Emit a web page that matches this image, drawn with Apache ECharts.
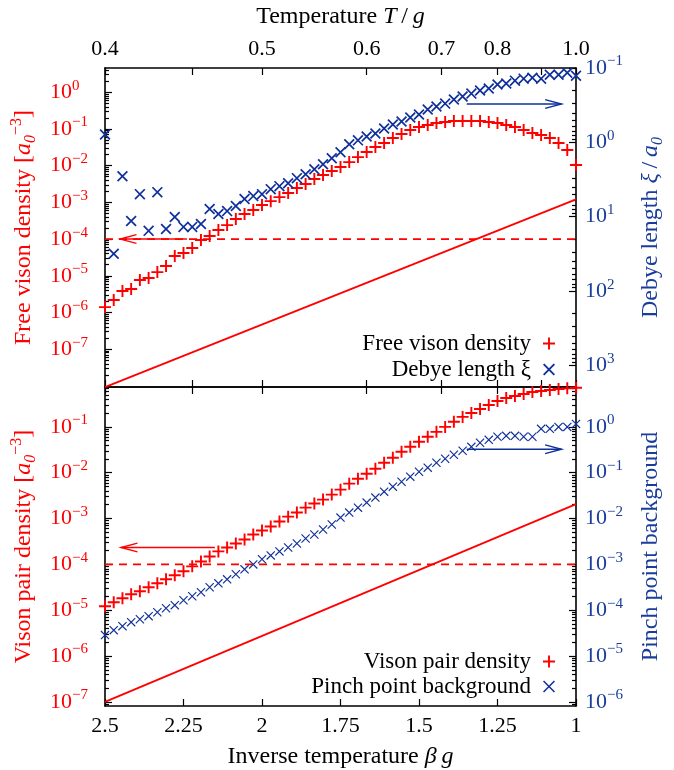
<!DOCTYPE html>
<html><head><meta charset="utf-8">
<script src="https://cdn.jsdelivr.net/npm/echarts@6/dist/echarts.min.js"></script>
<style>html,body{margin:0;padding:0;background:#fff}#c{width:674px;height:770px}</style>
</head><body><div id="c"></div>
<script>
// ---------------- data ----------------
const betaGrid = [2.5,2.4722,2.4444,2.4167,2.3889,2.3611,2.3333,2.3056,2.2778,2.25,
  2.2222,2.1944,2.1667,2.1389,2.1111,2.0833,2.0556,2.0278,2.0,1.9722,
  1.9444,1.9167,1.8889,1.8611,1.8333,1.8056,1.7778,1.75,1.7222,1.6944,
  1.6667,1.6389,1.6111,1.5833,1.5556,1.5278,1.5,1.4722,1.4444,1.4167,
  1.3889,1.3611,1.3333,1.3056,1.2778,1.25,1.2222,1.1944,1.1667,1.1389,
  1.1111,1.0833,1.0556,1.0278,1.0];
const freeVisonDensity = [1.40e-6,2.18e-6,3.83e-6,4.35e-6,7.64e-6,8.65e-6,1.26e-5,1.84e-5,3.44e-5,4.16e-5,
  5.69e-5,9.4e-5,1.21e-4,1.76e-4,2.40e-4,3.51e-4,4.80e-4,6.17e-4,8.43e-4,1.08e-3,
  1.39e-3,1.79e-3,2.45e-3,3.16e-3,4.32e-3,5.55e-3,7.13e-3,9.16e-3,1.25e-2,1.71e-2,
  2.35e-2,3.21e-2,4.13e-2,5.65e-2,7.26e-2,9.33e-2,0.113,0.128,0.145,0.154,
  0.164,0.164,0.164,0.164,0.154,0.145,0.128,0.113,9.33e-2,7.73e-2,
  6.82e-2,5.65e-2,4.13e-2,2.66e-2,1.04e-2];
const debyeLength = [0.782,31.5,2.85,11.4,4.97,15.5,4.67,14.6,10.1,13.7,
  13.7,12.5,7.89,9.2,8.4,7.19,5.79,5.28,4.97,4.26,
  3.88,3.54,3.03,2.68,2.30,1.97,1.64,1.36,1.06,0.94,
  0.832,0.759,0.65,0.574,0.524,0.462,0.422,0.361,0.33,0.301,
  0.265,0.242,0.221,0.201,0.189,0.167,0.162,0.148,0.139,0.135,
  0.139,0.123,0.123,0.116,0.127];
const visonPairDensity = [1.22e-5,1.49e-5,1.82e-5,2.23e-5,2.59e-5,3.16e-5,3.86e-5,4.72e-5,5.77e-5,7.05e-5,
  9.05e-5,1.16e-4,1.49e-4,1.92e-4,2.34e-4,2.86e-4,3.49e-4,4.49e-4,5.48e-4,6.70e-4,
  8.61e-4,1.10e-3,1.35e-3,1.73e-3,2.12e-3,2.59e-3,3.33e-3,4.27e-3,5.77e-3,7.41e-3,
  9.51e-3,1.22e-2,1.65e-2,2.12e-2,2.86e-2,3.67e-2,4.72e-2,6.07e-2,7.78e-2,0.100,
  0.129,0.165,0.201,0.246,0.301,0.367,0.427,0.472,0.521,0.577,
  0.607,0.637,0.670,0.693,0.714];
const pinchPointBackground = [2.86e-5,3.67e-5,4.49e-5,5.48e-5,6.37e-5,7.41e-5,9.05e-5,1.10e-4,1.29e-4,1.65e-4,
  2.01e-4,2.46e-4,3.16e-4,3.86e-4,4.72e-4,6.07e-4,7.78e-4,1.0e-3,1.29e-3,1.57e-3,
  1.92e-3,2.34e-3,2.86e-3,3.67e-3,4.49e-3,5.77e-3,7.41e-3,1.05e-2,1.35e-2,1.73e-2,
  2.23e-2,2.86e-2,3.86e-2,4.96e-2,6.37e-2,8.19e-2,0.105,0.129,0.165,0.201,
  0.246,0.301,0.367,0.449,0.521,0.607,0.637,0.637,0.607,0.607,
  0.906,0.906,1.0,1.0,1.16];
const freeVisonFit = [[2.5, 9.3e-9], [1.0, 1.21e-3]];
const visonPairFit = [[2.5, 1.0e-7], [1.0, 2.07e-3]];
const thresholdLine = [[2.5, 1e-4], [1.0, 1e-4]];
// arrows: [betaTail, valueTail, betaHead, valueHead]
const arrowFreeVison = [2.239, 1e-4, 2.452, 1e-4];
const arrowDebye = [1.348, 0.305, 1.046, 0.305];
const arrowVisonPair = [2.150, 2.34e-4, 2.449, 2.34e-4];
const arrowPinch = [1.348, 0.325, 1.046, 0.325];
// ticks
const tempTicks = [0.4, 0.45, 0.5, 0.6, 0.7, 0.8, 0.9, 1.0];
const tempLabels = [0.4, 0.5, 0.6, 0.7, 0.8, 1.0];
const betaTicks = [2.5, 2.25, 2, 1.75, 1.5, 1.25, 1];
const betaLabels = ['2.5', '2.25', '2', '1.75', '1.5', '1.25', '1'];
const freeDecades = [-7, -6, -5, -4, -3, -2, -1, 0];
const debyeDecades = [-1, 0, 1, 2, 3];
const pairDecades = [-7, -6, -5, -4, -3, -2, -1];
const pinchDecades = [-6, -5, -4, -3, -2, -1, 0];
const minorMultipliers = [2, 3, 4, 5, 6, 7, 8, 9];

// ---------------- style ----------------
const SERIF = '"Liberation Serif","Times New Roman",serif';
const RED = '#ff0000';
const BLUE = '#1a3c9c';
const BLUE_M = '#0f2f9a';
const FS_TICK = 22, FS_NAME = 24, FS_LEG = 23;
const L = Math.log10;
const PLUS = 'path://M0,4.2L10,4.2L10,5.8L0,5.8Z M4.2,0L5.8,0L5.8,10L4.2,10Z';
const CROSS = 'path://M0,1.1L1.1,0L10,8.9L8.9,10Z M8.9,0L10,1.1L1.1,10L0,8.9Z';
const CROSS_S = 'path://M0,0.9L0.9,0L10,9.1L9.1,10Z M9.1,0L10,0.9L0.9,10L0,9.1Z';

const R = {
  top:   {left: [-8.03, 0.66], right: [-1, 3.29]},
  bot:   {left: [-7.09, -0.13], right: [-6.09, 0.87]}
};

function sciRich(color) {
  return {
    b: {fontFamily: SERIF, fontSize: FS_TICK, color: color, lineHeight: 28},
    s: {fontFamily: SERIF, fontSize: 15, color: color, lineHeight: 15, verticalAlign: 'top'}
  };
}
function sciFmt(v) {
  const e = Math.round(v);
  return '{b|10}{s|' + (e < 0 ? '\u2212' + (-e) : e) + '}';
}
function nameRich(color) {
  return {
    i: {fontFamily: SERIF, fontSize: FS_NAME, fontStyle: 'italic', color: color, lineHeight: 30},
    sub: {fontFamily: SERIF, fontSize: 16, fontStyle: 'italic', color: color, lineHeight: 16, verticalAlign: 'bottom'},
    sup: {fontFamily: SERIF, fontSize: 16, color: color, lineHeight: 16, verticalAlign: 'top'}
  };
}
function minorTicks(min, max) {
  const out = [];
  for (let n = Math.floor(min); n <= Math.ceil(max); n++) {
    minorMultipliers.forEach(m => { const v = n + L(m); if (v > min && v < max) out.push(v); });
  }
  return out;
}
const frameLine = {show: true, onZero: false, lineStyle: {color: '#000', width: 1.6}};
const tickStyle = {color: '#000', width: 1.2};

function yMajor(gridIndex, pos, range, inverse, decades, color, name, nameGap, labelMargin) {
  return {
    type: 'value', gridIndex, position: pos, min: range[0], max: range[1], inverse,
    axisLine: frameLine,
    axisTick: {show: true, inside: true, length: 7, lineStyle: tickStyle, customValues: decades},
    axisLabel: {show: true, customValues: decades, formatter: sciFmt, margin: labelMargin,
      align: 'left', rich: sciRich(color), color},
    splitLine: {show: false},
    name, nameLocation: 'middle', nameGap, nameRotate: 90,
    nameTextStyle: {fontFamily: SERIF, fontSize: FS_NAME, color, lineHeight: 30, rich: nameRich(color)}
  };
}
function yMinor(gridIndex, pos, range, inverse) {
  return {
    type: 'value', gridIndex, position: pos, min: range[0], max: range[1], inverse,
    axisLine: {show: false, onZero: false},
    axisTick: {show: true, inside: true, length: 4, lineStyle: tickStyle, customValues: minorTicks(range[0], range[1])},
    axisLabel: {show: false}, splitLine: {show: false}
  };
}
const tempBetaTicks = tempTicks.map(t => 1 / t);
const tempBetaLabels = tempLabels.map(t => 1 / t);
function xTemp(gridIndex, pos, withLabels) {
  const ax = {
    type: 'value', gridIndex, position: pos, min: 1, max: 2.5, inverse: true,
    axisLine: frameLine,
    axisTick: {show: true, inside: true, length: 7, lineStyle: tickStyle, customValues: tempBetaTicks},
    axisLabel: {show: withLabels, customValues: tempBetaLabels, margin: 8,
      formatter: v => (1 / v).toFixed(1), fontFamily: SERIF, fontSize: FS_TICK, color: '#000'},
    splitLine: {show: false}
  };
  if (withLabels) {
    ax.name = 'Temperature {i|T}\u2009/\u2009{i|g}';
    ax.nameLocation = 'middle';
    ax.nameGap = 36;
    ax.nameTextStyle = {fontFamily: SERIF, fontSize: FS_NAME, color: '#000', rich: nameRich('#000')};
  }
  return ax;
}
const xBeta = {
  type: 'value', gridIndex: 1, position: 'bottom', min: 1, max: 2.5, inverse: true,
  axisLine: frameLine,
  axisTick: {show: true, inside: true, length: 7, lineStyle: tickStyle, customValues: betaTicks},
  axisLabel: {show: true, customValues: betaTicks, margin: 9,
    formatter: v => betaLabels[betaTicks.findIndex(b => Math.abs(b - v) < 1e-6)],
    fontFamily: SERIF, fontSize: FS_TICK, color: '#000'},
  splitLine: {show: false},
  name: 'Inverse temperature {i|\u03b2\u2009g}', nameLocation: 'middle', nameGap: 36,
  nameTextStyle: {fontFamily: SERIF, fontSize: FS_NAME, color: '#000', rich: nameRich('#000')}
};

function pts(ys) { return betaGrid.map((b, i) => [b, L(ys[i])]); }
function linePts(arr) { return arr.map(p => [p[0], L(p[1])]); }
function arrowRender(params, api) {
  const p1 = api.coord([api.value(0), api.value(1)]);
  const p2 = api.coord([api.value(2), api.value(3)]);
  const c = api.visual('color');
  const ang = Math.atan2(p2[1] - p1[1], p2[0] - p1[0]);
  const hl = 17, ha = 0.26;
  const h1 = [p2[0] - hl * Math.cos(ang - ha), p2[1] - hl * Math.sin(ang - ha)];
  const h2 = [p2[0] - hl * Math.cos(ang + ha), p2[1] - hl * Math.sin(ang + ha)];
  return {type: 'group', children: [
    {type: 'line', shape: {x1: p1[0], y1: p1[1], x2: p2[0], y2: p2[1]}, style: {stroke: c, lineWidth: 1.4}},
    {type: 'polyline', shape: {points: [h1, p2, h2]}, style: {stroke: c, fill: null, lineWidth: 1.4}}
  ]};
}
function arrowSeries(xi, yi, a, color) {
  return {type: 'custom', xAxisIndex: xi, yAxisIndex: yi, renderItem: arrowRender, clip: false,
    itemStyle: {color}, data: [[a[0], L(a[1]), a[2], L(a[3])]], encode: {x: [0, 2], y: [1, 3]}, silent: true};
}
function lineSeries(xi, yi, data, dashed) {
  return {type: 'line', xAxisIndex: xi, yAxisIndex: yi, data: linePts(data), showSymbol: false, symbol: 'none',
    lineStyle: {color: RED, width: 1.8, type: dashed ? [8, 6] : 'solid'}, silent: true};
}
const legendText = {fontFamily: SERIF, fontSize: FS_LEG, color: '#000', lineHeight: 22, padding: [0, 7, 0, 0]};

const option = {
  animation: false,
  backgroundColor: '#fff',
  grid: [
    {left: 105, top: 68, width: 471.7, height: 319},
    {left: 105, top: 387, width: 471.7, height: 320}
  ],
  xAxis: [xTemp(0, 'top', true), xTemp(0, 'bottom', false), xTemp(1, 'top', false), xBeta],
  yAxis: [
    yMajor(0, 'left', R.top.left, false, freeDecades, RED,
      'Free vison density [{i|a}{sub|0}{sup|\u22123}]', 52, 55),
    yMajor(0, 'right', R.top.right, true, debyeDecades, BLUE,
      'Debye length {i|\u03be}\u2009/\u2009{i|a}{sub|0}', 60, 9),
    yMinor(0, 'left', R.top.left, false),
    yMinor(0, 'right', R.top.right, true),
    yMajor(1, 'left', R.bot.left, false, pairDecades, RED,
      'Vison pair density [{i|a}{sub|0}{sup|\u22123}]', 52, 55),
    yMajor(1, 'right', R.bot.right, false, pinchDecades, BLUE,
      'Pinch point background', 60, 9),
    yMinor(1, 'left', R.bot.left, false),
    yMinor(1, 'right', R.bot.right, false)
  ],
  legend: [
    {data: ['Free vison density', 'Debye length \u03be'], orient: 'vertical', right: 114, top: 327,
      align: 'right', itemWidth: 12, itemHeight: 12, itemGap: 3, selectedMode: false, textStyle: legendText},
    {data: ['Vison pair density', 'Pinch point background'], orient: 'vertical', right: 114, top: 645,
      align: 'right', itemWidth: 12, itemHeight: 12, itemGap: 2, selectedMode: false, textStyle: legendText}
  ],
  series: [
    lineSeries(0, 0, thresholdLine, true),
    lineSeries(0, 0, freeVisonFit, false),
    arrowSeries(0, 0, arrowFreeVison, RED),
    arrowSeries(0, 1, arrowDebye, BLUE_M),
    {name: 'Free vison density', type: 'scatter', xAxisIndex: 0, yAxisIndex: 0, data: pts(freeVisonDensity),
      symbol: PLUS, symbolSize: 12, itemStyle: {color: RED, opacity: 1}, clip: false},
    {name: 'Debye length \u03be', type: 'scatter', xAxisIndex: 0, yAxisIndex: 1, data: pts(debyeLength),
      symbol: CROSS, symbolSize: 11, itemStyle: {color: BLUE_M, opacity: 1}, clip: false},

    lineSeries(3, 4, thresholdLine, true),
    lineSeries(3, 4, visonPairFit, false),
    arrowSeries(3, 4, arrowVisonPair, RED),
    arrowSeries(3, 5, arrowPinch, BLUE_M),
    {name: 'Vison pair density', type: 'scatter', xAxisIndex: 3, yAxisIndex: 4, data: pts(visonPairDensity),
      symbol: PLUS, symbolSize: 12, itemStyle: {color: RED, opacity: 1}, clip: false},
    {name: 'Pinch point background', type: 'scatter', xAxisIndex: 3, yAxisIndex: 5, data: pts(pinchPointBackground),
      symbol: CROSS_S, symbolSize: 9, itemStyle: {color: BLUE_M, opacity: 1}, clip: false}
  ]
};
const chart = echarts.init(document.getElementById('c'), null, {renderer: 'canvas'});
chart.setOption(option);
</script>
</body></html>
